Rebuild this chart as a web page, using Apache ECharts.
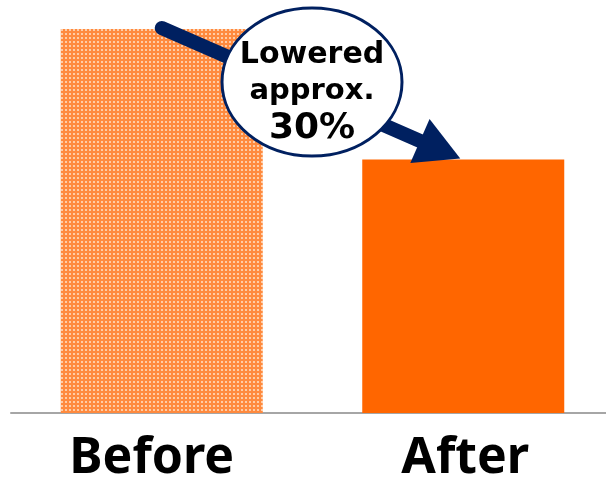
<!DOCTYPE html>
<html><head><meta charset="utf-8">
<script src="https://cdn.jsdelivr.net/npm/echarts@6/dist/echarts.min.js"></script>
<style>html,body{margin:0;padding:0;background:#fff}#c{width:606px;height:478px}</style>
</head><body><div id="c"></div>
<script>
const categories = ['Before', 'After'];
const values = [100, 66];
const noteLines = ['Lowered', 'approx.', '30%'];

const tile = document.createElement('canvas');
tile.width = 4; tile.height = 4;
const tc = tile.getContext('2d');
tc.fillStyle = '#FF8A3E'; tc.fillRect(0, 0, 4, 4);
tc.fillStyle = '#FFCCA6'; tc.fillRect(1, 1, 2, 2);

const chart = echarts.init(document.getElementById('c'), null, {renderer: 'canvas'});
chart.setOption({
  animation: false,
  grid: {left: 11, top: 29, right: -8, bottom: 65, containLabel: false, outerBoundsMode: 'none'},
  xAxis: {
    type: 'category',
    data: [
      {value: categories[0], textStyle: {padding: [0, 20, 0, 0]}},
      {value: categories[1], textStyle: {padding: [0, 0, 0, 4]}}
    ],
    axisLine: {lineStyle: {color: '#A6A6A6', width: 2}},
    axisTick: {show: false},
    axisLabel: {fontFamily: 'Noto Sans', fontWeight: 'bold', fontSize: 50, color: '#000', margin: 21}
  },
  yAxis: {type: 'value', min: 0, max: 100, show: false, splitLine: {show: false}},
  series: [{
    type: 'bar',
    barWidth: 202,
    data: [
      {value: values[0], itemStyle: {color: {image: tile, repeat: 'repeat'}}},
      {value: values[1], itemStyle: {color: '#FF6600'}}
    ]
  }]
});

const p0 = chart.convertToPixel({gridIndex: 0}, [categories[0], values[0]]);
const p1 = chart.convertToPixel({gridIndex: 0}, [categories[1], values[1]]);
const sx = p0[0], sy = p0[1] - 1;
const tx = p1[0] - 3, ty = p1[1] - 1;
const ang = Math.atan2(ty - sy, tx - sx);
const headLen = 44, headHalf = 24;
const bx = tx - headLen * Math.cos(ang), by = ty - headLen * Math.sin(ang);
const nx = -Math.sin(ang), ny = Math.cos(ang);
const cx = 312, cy = 82;

chart.setOption({
  graphic: [
    {type: 'line', z: 10, shape: {x1: sx, y1: sy, x2: bx + 4 * Math.cos(ang), y2: by + 4 * Math.sin(ang)},
     style: {stroke: '#002060', lineWidth: 14, lineCap: 'round'}},
    {type: 'polygon', z: 10, shape: {points: [[tx, ty], [bx + nx * headHalf, by + ny * headHalf], [bx - nx * headHalf, by - ny * headHalf]]},
     style: {fill: '#002060'}},
    {type: 'ellipse', z: 11, shape: {cx: cx, cy: cy, rx: 90, ry: 74},
     style: {fill: '#fff', stroke: '#002060', lineWidth: 3}},
    {type: 'text', z: 12, x: cx, y: 55, style: {text: noteLines[0], font: 'bold 30px "DejaVu Sans"', fill: '#000', align: 'center', verticalAlign: 'middle'}},
    {type: 'text', z: 12, x: cx, y: 91, style: {text: noteLines[1], font: 'bold 29px "DejaVu Sans"', fill: '#000', align: 'center', verticalAlign: 'middle'}},
    {type: 'text', z: 12, x: cx, y: 129, style: {text: noteLines[2], font: 'bold 36px "DejaVu Sans"', fill: '#000', align: 'center', verticalAlign: 'middle'}}
  ]
});
</script></body></html>
